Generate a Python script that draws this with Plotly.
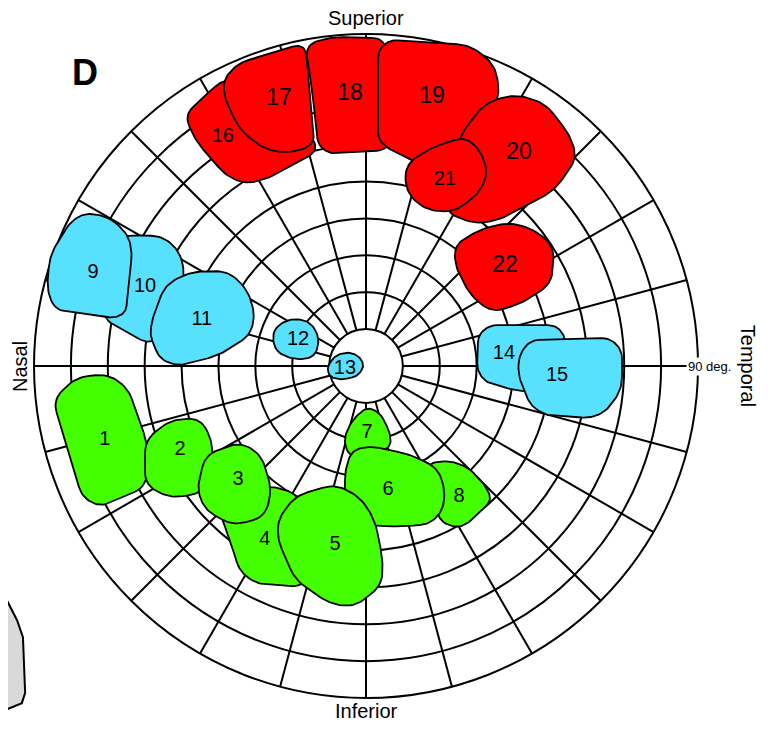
import numpy as np
import plotly.graph_objects as go

# ---------------- data (visual-field degrees; x = temporal +, y = superior +) ----------------
ring_ecc = [10, 20, 30, 40, 50, 60, 70, 80, 90]
spoke_deg = list(range(0, 360, 15))          # meridians drawn from 10 to 90 deg

blob_ids = [str(i) for i in range(1, 23)]
blob_group = ["g"] * 8 + ["c"] * 7 + ["r"] * 7

b1 = [(-84.9, -9.2), (-78.6, -3.0), (-69.9, -2.2), (-64.5, -6.0), (-59.1, -21.4), (-59.6, -32.8), (-72.1, -38.2), (-77.0, -35.5)]
b2 = [(-59.9, -20.1), (-53.1, -14.6), (-45.0, -14.1), (-41.7, -20.1), (-41.5, -30.9), (-45.5, -34.7), (-53.1, -35.8), (-59.9, -32.3)]
b3 = [(-43.6, -24.1), (-34.2, -20.6), (-28.4, -24.0), (-25.5, -33.6), (-27.4, -40.9), (-36.0, -43.3), (-43.6, -39.0), (-45.8, -33.6)]
b4 = [(-40.9, -36.3), (-26.0, -32.3), (-17.9, -35.0), (-16.5, -59.9), (-29.5, -59.1), (-34.2, -55.8), (-36.9, -47.2)]
b5 = [(-23.9, -41.7), (-19.2, -35.2), (-8.4, -32.0), (-1.6, -35.5), (2.4, -41.7), (4.6, -52.6), (4.3, -59.4), (-3.0, -65.3), (-9.8, -64.5), (-19.2, -58.0), (-23.9, -47.2)]
b6 = [(-5.7, -28.2), (-3.8, -22.8), (1.1, -21.7), (11.9, -23.9), (19.5, -27.7), (21.4, -33.6), (20.9, -39.0), (17.4, -42.8), (9.2, -43.6), (-1.6, -43.1), (-5.7, -37.7)]
b7 = [(-6.2, -20.1), (-3.8, -14.6), (0.3, -11.1), (3.8, -12.7), (6.5, -17.9), (6.8, -22.0), (1.1, -24.1), (-4.3, -24.9)]
b8 = [(16.0, -26.8), (21.4, -25.5), (27.4, -27.1), (32.3, -32.3), (34.2, -36.3), (28.2, -42.3), (24.9, -43.9), (20.1, -42.3)]
b9 = [(-85.7, 30.1), (-80.2, 39.0), (-76.2, 41.5), (-69.4, 40.4), (-64.5, 35.5), (-63.4, 30.9), (-65.1, 14.6), (-68.0, 13.0), (-84.3, 15.2), (-86.5, 20.6)]
b10 = [(-68.0, 34.2), (-64.0, 35.5), (-55.0, 35.2), (-50.4, 30.9), (-49.1, 24.7), (-53.1, 9.8), (-58.6, 5.7), (-70.8, 12.5), (-72.1, 17.9)]
b11 = [(-58.0, 12.5), (-54.5, 22.0), (-47.7, 25.5), (-37.4, 25.8), (-32.0, 20.6), (-30.1, 13.8), (-31.4, 8.4), (-39.6, 3.0), (-50.4, 0.0), (-55.8, 1.6), (-58.6, 8.4)]
b12 = [(-25.5, 9.8), (-20.6, 13.0), (-15.2, 12.2), (-12.5, 7.6), (-13.8, 2.4), (-19.0, 1.6), (-24.7, 3.8)]
b13 = [(-10.6, -0.5), (-8.4, 3.0), (-4.3, 3.8), (-1.6, 2.4), (-0.5, 0.0), (-2.2, -2.7), (-6.5, -3.8), (-9.8, -3.0)]
b14 = [(30.4, 8.4), (33.6, 11.1), (51.2, 11.1), (53.9, 8.4), (53.9, -6.5), (41.7, -7.0), (32.3, -4.3), (30.1, -1.1)]
b15 = [(41.5, 3.0), (44.5, 7.0), (66.1, 7.6), (69.4, 4.3), (69.4, -6.5), (64.8, -12.5), (60.7, -14.1), (48.5, -13.3), (44.5, -10.6), (41.2, -2.4)]
b16 = [(-49.1, 68.0), (-45.0, 72.1), (-38.2, 78.1), (-23.3, 74.8), (-12.5, 58.6), (-26.0, 51.0), (-32.8, 49.3), (-38.2, 51.8), (-46.4, 61.3)]
b17 = [(-38.8, 77.5), (-34.7, 82.1), (-16.5, 87.6), (-13.8, 59.9), (-20.6, 57.7), (-27.4, 58.6), (-34.2, 64.0), (-38.2, 72.1)]
b18 = [(-16.5, 87.0), (-9.8, 89.2), (5.2, 88.9), (6.5, 58.6), (-9.8, 57.5), (-13.0, 59.9), (-14.6, 74.8)]
b19 = [(3.3, 85.7), (6.5, 88.4), (28.2, 87.0), (35.0, 81.6), (36.3, 73.5), (30.9, 61.3), (20.1, 51.8), (12.7, 55.8), (6.5, 58.6), (3.3, 61.3)]
b20 = [(25.5, 62.6), (32.3, 71.3), (40.4, 73.7), (48.5, 71.3), (55.3, 62.6), (57.2, 56.4), (51.2, 47.7), (36.3, 39.6), (29.5, 38.5), (21.4, 41.7)]
b21 = [(10.6, 54.5), (17.4, 59.1), (26.8, 62.1), (30.9, 58.6), (33.1, 52.6), (30.9, 47.2), (24.1, 41.7), (16.0, 42.3), (10.8, 47.2)]
b22 = [(24.1, 32.8), (30.9, 37.1), (39.0, 39.0), (45.8, 36.9), (51.0, 32.3), (50.4, 22.5), (43.1, 17.4), (34.2, 14.4), (28.2, 19.2), (24.1, 27.4)]
blob_outlines = [b1, b2, b3, b4, b5, b6, b7, b8, b9, b10, b11, b12, b13, b14, b15, b16, b17, b18, b19, b20, b21, b22]

label_x = [-70.8, -50.4, -34.7, -27.4, -8.4, 6.0, 0.3, 25.2, -74.0, -59.9, -44.5, -18.4, -5.7, 37.4, 51.8, -38.8, -23.6, -4.3, 17.9, 41.5, 21.4, 37.7]
label_y = [-20.1, -22.8, -30.9, -47.2, -48.5, -33.6, -18.2, -35.5, 25.2, 21.4, 12.5, 7.0, -0.8, 3.3, -2.7, 62.1, 72.4, 73.7, 72.9, 57.7, 50.4, 27.1]

# drawing order (back to front)
draw_order = [1, 2, 4, 3, 8, 7, 6, 5, 10, 9, 11, 12, 13, 14, 15, 16, 17, 18, 19, 20, 21, 22]

neighbour_panel = [(-105, -58.0), (-99.2, -59.9), (-94.6, -68.9), (-93.0, -73.5), (-92.4, -88.6), (-93.3, -91.4), (-99.2, -93.8), (-105, -95.0)]

# ---------------- styling ----------------
colors = {"g": "#44FF00", "c": "#58E1FF", "r": "#FF0000"}
LINE = "#000000"
FONT = "Liberation Sans, Arial, Helvetica, sans-serif"
GRID_W = 2.0


def rounded(pts, rad=3.6, n=10):
    P = np.array(pts, dtype=float)
    N = len(P)
    xs, ys = [], []
    for i in range(N):
        p0, p1, p2 = P[i - 1], P[i], P[(i + 1) % N]
        d1 = np.linalg.norm(p0 - p1)
        d2 = np.linalg.norm(p2 - p1)
        c = min(rad, d1 / 2, d2 / 2)
        a = p1 + (p0 - p1) * c / d1
        b = p1 + (p2 - p1) * c / d2
        t = np.linspace(0, 1, n)[:, None]
        q = (1 - t) ** 2 * a + 2 * (1 - t) * t * p1 + t ** 2 * b
        xs.extend(q[:, 0]); ys.extend(q[:, 1])
    xs.append(xs[0]); ys.append(ys[0])
    return xs, ys


fig = go.Figure()

# neighbouring panel fragment
fig.add_trace(go.Scatter(x=[p[0] for p in neighbour_panel], y=[p[1] for p in neighbour_panel],
                         fill="toself", fillcolor="#D9D9D9", mode="lines",
                         line=dict(color=LINE, width=2), hoverinfo="skip", showlegend=False))

# grid: rings
shapes = []
for r in ring_ecc:
    shapes.append(dict(type="circle", xref="x", yref="y", x0=-r, x1=r, y0=-r, y1=r,
                       line=dict(color=LINE, width=GRID_W), layer="below"))
# grid: meridians
sx, sy = [], []
for a in spoke_deg:
    th = np.deg2rad(a)
    sx += [ring_ecc[0] * np.cos(th), ring_ecc[-1] * np.cos(th), None]
    sy += [ring_ecc[0] * np.sin(th), ring_ecc[-1] * np.sin(th), None]
fig.add_trace(go.Scatter(x=sx, y=sy, mode="lines", line=dict(color=LINE, width=GRID_W),
                         hoverinfo="skip", showlegend=False))

# blobs
for k in draw_order:
    i = k - 1
    xs, ys = rounded(blob_outlines[i])
    fig.add_trace(go.Scatter(x=xs, y=ys, mode="lines", fill="toself",
                             fillcolor=colors[blob_group[i]],
                             line=dict(color=LINE, width=1.8),
                             hoverinfo="skip", showlegend=False))

big = {"17", "18", "19", "20", "22"}
fig.add_trace(go.Scatter(x=label_x, y=label_y, mode="text", text=blob_ids,
                         textfont=dict(family=FONT, color="#000000",
                                       size=[23 if b in big else 20 for b in blob_ids]),
                         hoverinfo="skip", showlegend=False))

ann = [
    dict(x=0, y=94.3, text="Superior", font=dict(size=20)),
    dict(x=0, y=-93.6, text="Inferior", font=dict(size=20)),
    dict(x=-93.8, y=0, text="Nasal", textangle=-90, font=dict(size=20)),
    dict(x=103.6, y=0, text="Temporal", textangle=90, font=dict(size=20)),
    dict(x=93.0, y=0, text="90 deg.", font=dict(size=13), bgcolor="#FFFFFF", borderpad=1),
    dict(x=-76.2, y=79.7, text="<b>D</b>", font=dict(size=36)),
]
for a in ann:
    a.update(xref="x", yref="y", showarrow=False)
    a["font"].update(family=FONT, color="#000000")

fig.update_layout(
    width=764, height=722, margin=dict(l=0, r=0, t=0, b=0),
    paper_bgcolor="#FFFFFF", plot_bgcolor="#FFFFFF",
    shapes=shapes, annotations=ann, showlegend=False,
    xaxis=dict(range=[-97.05, 110.06], visible=False, fixedrange=True),
    yaxis=dict(range=[-98.67, 97.05], visible=False, fixedrange=True),
)

fig.write_html("out.html")
